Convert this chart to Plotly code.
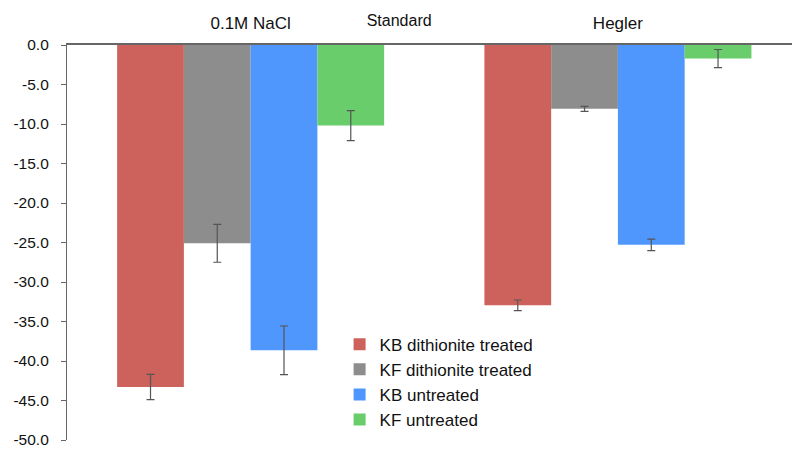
import plotly.graph_objects as go

categories = ["0.1M NaCl", "Hegler"]
series_names = ["KB dithionite treated", "KF dithionite treated", "KB untreated", "KF untreated"]
kb_dith = [-43.3, -32.95]
kb_dith_err = [1.6, 0.67]
kf_dith = [-25.1, -8.08]
kf_dith_err = [2.4, 0.31]
kb_untr = [-38.65, -25.3]
kb_untr_err = [3.08, 0.73]
kf_untr = [-10.2, -1.72]
kf_untr_err = [1.9, 1.15]
colors = ["#CD625C", "#8D8D8D", "#4F97FC", "#68CD6A"]
y_ticks = [0, -5, -10, -15, -20, -25, -30, -35, -40, -45, -50]
y_ticktext = ["0.0", "-5.0", "-10.0", "-15.0", "-20.0", "-25.0", "-30.0", "-35.0", "-40.0", "-45.0", "-50.0"]

values = [kb_dith, kf_dith, kb_untr, kf_untr]
errors = [kb_dith_err, kf_dith_err, kb_untr_err, kf_untr_err]

fig = go.Figure()
for i, (name, vals, errs, col) in enumerate(zip(series_names, values, errors, colors)):
    fig.add_trace(go.Bar(
        x=categories, y=vals, name=name, legendgroup=name,
        marker=dict(color=col, line=dict(width=0)),
        error_y=dict(type="data", array=errs, visible=True, color="#555555",
                     thickness=1.2, width=4),
    ))

fig.update_layout(
    width=792, height=449,
    margin=dict(l=67, r=0, t=45, b=9),
    paper_bgcolor="white", plot_bgcolor="white",
    font=dict(family="Liberation Sans, Arial, sans-serif", size=16, color="#111111"),
    barmode="group", bargap=0.273, bargroupgap=0,
    title=dict(text="Standard", x=0.504, xanchor="center", y=0.955, yanchor="middle",
               font=dict(size=16, color="#111111")),
    showlegend=True,
    legend=dict(x=0.376, y=0.287, xanchor="left", yanchor="top",
                font=dict(size=17, color="#111111"), bgcolor="rgba(0,0,0,0)",
                tracegroupgap=1, itemwidth=30, traceorder="normal"),
    xaxis=dict(side="top", range=[-0.5, 1.474], showline=True, linecolor="#666666",
               linewidth=1.5, ticks="", showgrid=False, zeroline=False,
               ticklabelstandoff=7, tickfont=dict(size=17), automargin=False),
    yaxis=dict(range=[-50, 0], tickvals=y_ticks, ticktext=y_ticktext,
               showline=True, linecolor="#666666", linewidth=1.2,
               ticks="outside", ticklen=5, tickcolor="#666666", tickwidth=1.2,
               showgrid=False, zeroline=False, ticklabelstandoff=9,
               ticklabeloverflow="allow", tickfont=dict(size=15.5), automargin=False),
)

fig.write_html("out.html")
